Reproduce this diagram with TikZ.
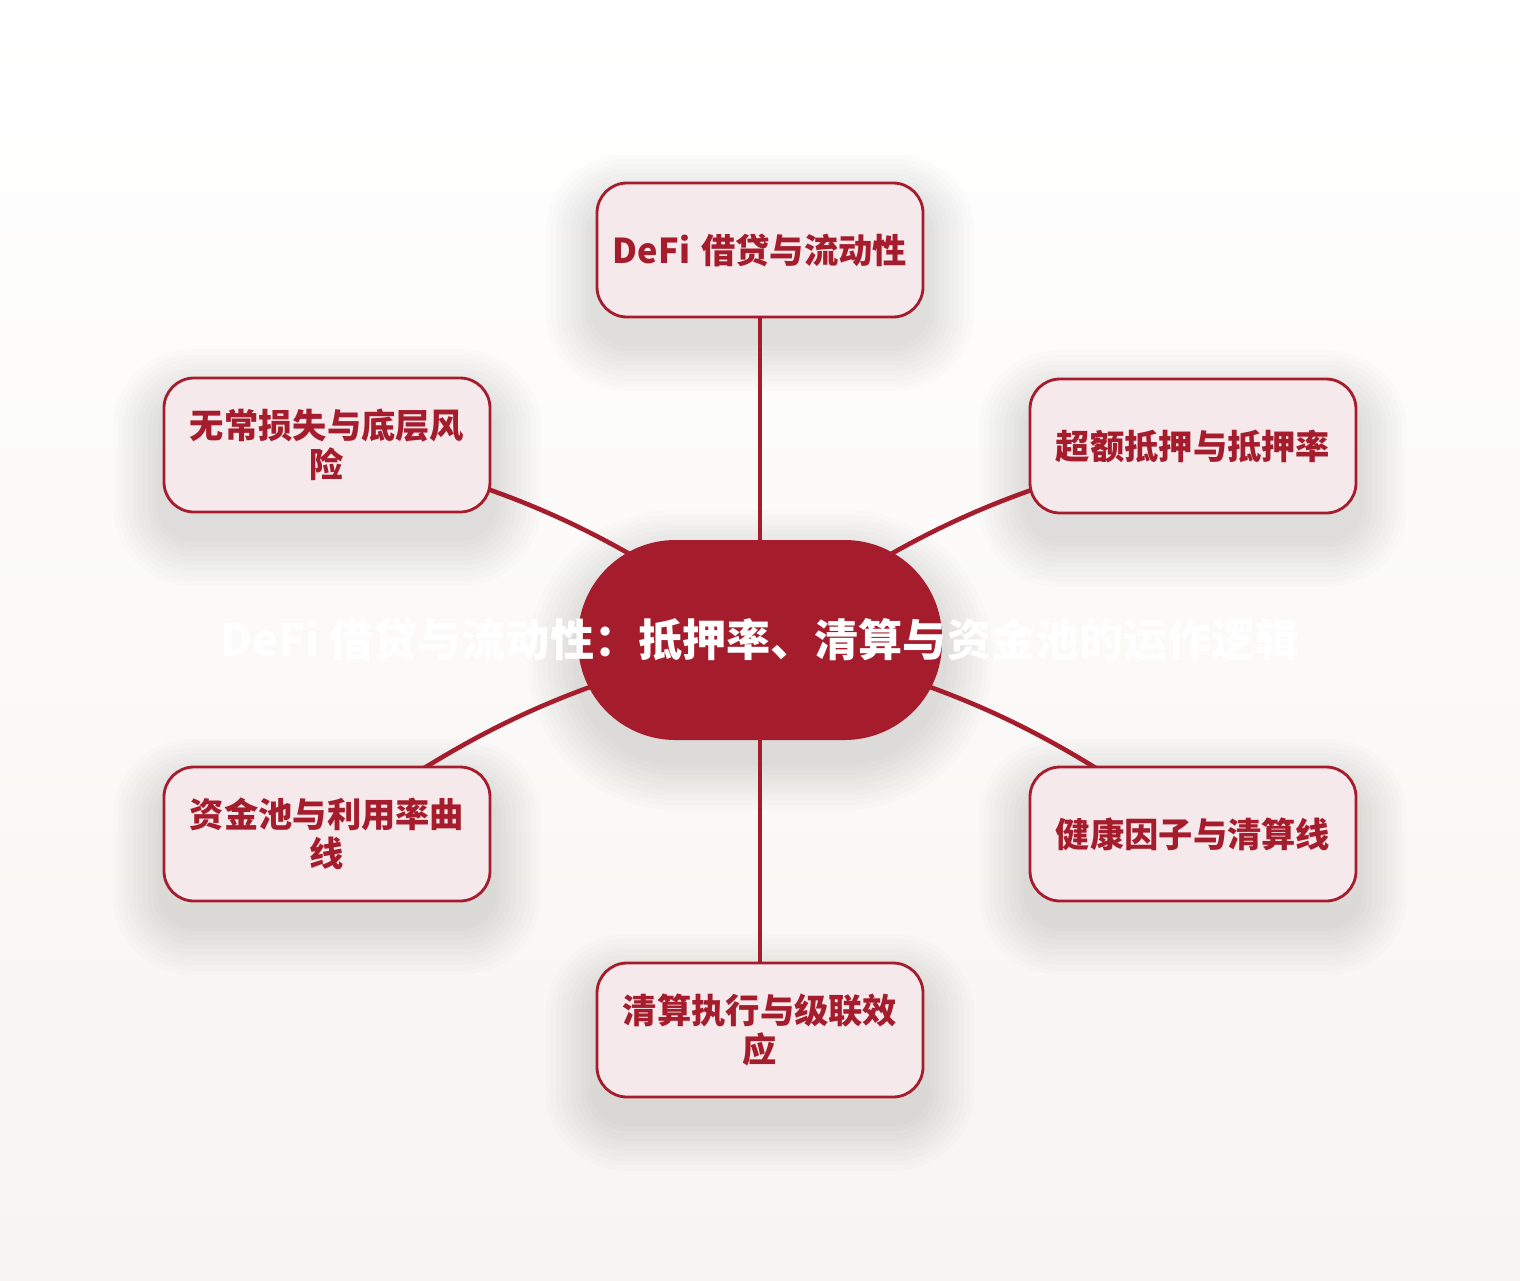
\documentclass[tikz,border=0pt]{standalone}
\usepackage{fontspec}
\setmainfont{Noto Sans CJK SC}
\usetikzlibrary{backgrounds}
\definecolor{loanred}{HTML}{A51C2C}
\definecolor{loanpink}{HTML}{F5E9EC}
\definecolor{paperlow}{HTML}{F7F5F1}
\begin{document}
\begin{tikzpicture}[
	topic/.style={draw=loanred, line width=1.6pt, fill=loanpink, rounded corners=0.6cm, minimum width=6.52cm, minimum height=2.68cm, text width=6cm, align=center, text=loanred, font=\fontsize{19.5}{22.2}\selectfont\bfseries},
	hub/.style={fill=loanred, rounded corners=1.95cm, minimum width=7.28cm, minimum height=4cm, text=white, font=\fontsize{25.1}{30}\selectfont\bfseries},
	spoke/.style={draw=loanred, line width=2.6pt},
	haze/.style={fill=black, opacity=0.013}]
	\begin{pgfonlayer}{background}
		\fill[top color=white, bottom color=paperlow] (0,0) rectangle (30.4,-25.6);
	\end{pgfonlayer}
	\node[hub] (hub) at (15.2,-12.8) {\makebox[0pt]{DeFi 借贷与流动性：抵押率、清算与资金池的运作逻辑}};
	\node[topic] (top) at (15.2,-5.0) {DeFi 借贷与流动性};
	\node[topic] (risk) at (6.54,-8.9) {无常损失与底层风\\险};
	\node[topic] (collat) at (23.86,-8.92) {超额抵押与抵押率};
	\node[topic] (pool) at (6.54,-16.68) {资金池与利用率曲\\线};
	\node[topic] (health) at (23.86,-16.68) {健康因子与清算线};
	\node[topic] (cascade) at (15.2,-20.6) {清算执行与级联效\\应};
	\begin{pgfonlayer}{background}
		\foreach \r in {0.1,0.2,...,1.0}
			\fill[haze, rounded corners=1.95cm+\r cm] ([xshift=-\r cm, yshift=-0.4cm-\r cm]hub.south west) rectangle ([xshift=\r cm, yshift=-0.4cm+\r cm]hub.north east);
		\foreach \n in {top,risk,collat,pool,health,cascade}
			\foreach \r in {0.1,0.2,...,1.0}
				\fill[haze, rounded corners=0.6cm+\r cm] ([xshift=-\r cm, yshift=-0.45cm-\r cm]\n.south west) rectangle ([xshift=\r cm, yshift=-0.45cm+\r cm]\n.north east);
		\draw[spoke] (hub.center) -- (top.center);
		\draw[spoke] (hub.center) to[bend right=12] (risk.center);
		\draw[spoke] (hub.center) to[bend left=12] (collat.center);
		\draw[spoke] (hub.center) to[bend right=12] (pool.center);
		\draw[spoke] (hub.center) to[bend left=12] (health.center);
		\draw[spoke] (hub.center) -- (cascade.center);
	\end{pgfonlayer}
\end{tikzpicture}
\end{document}
